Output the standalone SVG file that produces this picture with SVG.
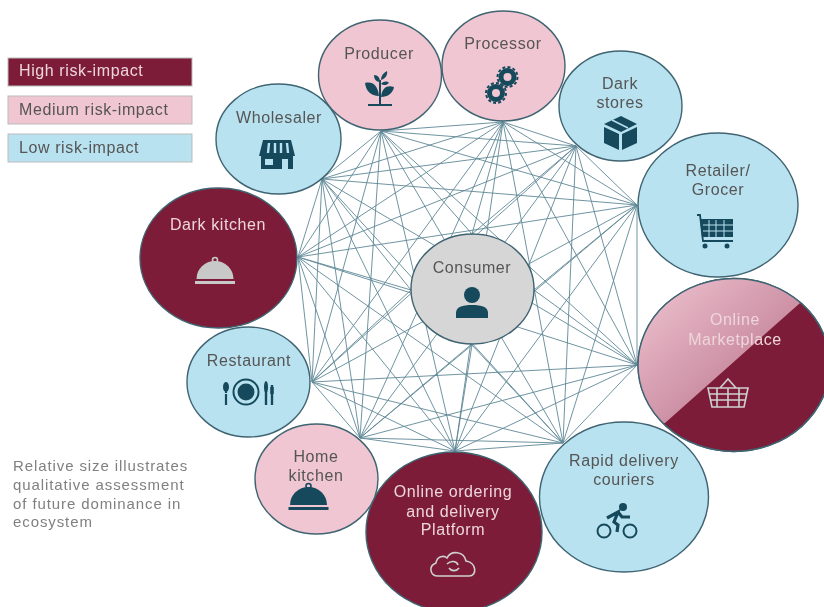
<svg xmlns="http://www.w3.org/2000/svg" width="824" height="607" viewBox="0 0 824 607">
<style>
text{font-family:"Liberation Sans",Arial,sans-serif;font-size:16px;letter-spacing:.6px;text-anchor:middle;fill:#555}
.lt{fill:#eed5dc}
.lg{text-anchor:start}
.nt{text-anchor:start;fill:#808080;font-size:15px;letter-spacing:.9px}
.c{stroke:#3f6472;stroke-width:1.4}
.hi{fill:#7b1f37}.me{fill:#f0c6d2}.lo{fill:#b9e2f0}.co{fill:#d6d6d6}
.leg{stroke:#bbb;stroke-width:1}
#links line{stroke:#5f8896;stroke-width:.9}
.ic{fill:#154a5c}
.il{fill:none;stroke:#154a5c;stroke-width:2}
.ig{fill:none;stroke:#cfcfcf;stroke-width:1.6}
</style>
<defs>
<filter id="soft" x="-2%" y="-2%" width="104%" height="104%"><feGaussianBlur stdDeviation="0.55"/></filter>
<linearGradient id="mk" x1="0" y1="0" x2="1" y2="1"><stop offset="0" stop-color="#f0c6d2"/><stop offset="0.55" stop-color="#c98aa0"/></linearGradient>
<clipPath id="mkc"><polygon points="800,303 665,423 620,423 620,270 800,270"/></clipPath>
<g id="cloche"><circle cx="0" cy="-24" r="2.500" fill="none" stroke-width="1.600" stroke="currentColor"/><path d="M-18.500-5A18.500 18 0 0 1 18.500-5Z" fill="currentColor"/><rect x="-20" y="-3" width="40" height="3" fill="currentColor"/></g>
</defs>
<g filter="url(#soft)">
<g id="legend">
<g id="legend-high"><rect class="hi leg" x="8" y="58" width="184" height="28"/><text class="lg lt" x="19" y="76">High risk-impact</text></g>
<g id="legend-medium"><rect class="me leg" x="8" y="96" width="184" height="28"/><text class="lg" x="19" y="115">Medium risk-impact</text></g>
<g id="legend-low"><rect class="lo leg" x="8" y="134" width="184" height="28"/><text class="lg" x="19" y="153">Low risk-impact</text></g>
</g>
<g id="note"><text class="nt" x="13" y="471">Relative size illustrates</text><text class="nt" x="13" y="490">qualitative assessment</text><text class="nt" x="13" y="509">of future dominance in</text><text class="nt" x="13" y="527">ecosystem</text></g>
<g id="links">
<line x1="381" y1="131" x2="503" y2="122"/><line x1="381" y1="131" x2="576" y2="146"/><line x1="381" y1="131" x2="637" y2="205"/><line x1="381" y1="131" x2="637" y2="365"/><line x1="381" y1="131" x2="563" y2="443"/><line x1="381" y1="131" x2="455" y2="451"/><line x1="381" y1="131" x2="360" y2="438"/><line x1="381" y1="131" x2="312" y2="382"/><line x1="381" y1="131" x2="298" y2="257"/><line x1="381" y1="131" x2="322" y2="179"/>
<line x1="503" y1="122" x2="576" y2="146"/><line x1="503" y1="122" x2="637" y2="205"/><line x1="503" y1="122" x2="637" y2="365"/><line x1="503" y1="122" x2="563" y2="443"/><line x1="503" y1="122" x2="455" y2="451"/><line x1="503" y1="122" x2="360" y2="438"/><line x1="503" y1="122" x2="312" y2="382"/><line x1="503" y1="122" x2="298" y2="257"/><line x1="503" y1="122" x2="322" y2="179"/>
<line x1="576" y1="146" x2="637" y2="205"/><line x1="576" y1="146" x2="637" y2="365"/><line x1="576" y1="146" x2="563" y2="443"/><line x1="576" y1="146" x2="455" y2="451"/><line x1="576" y1="146" x2="360" y2="438"/><line x1="576" y1="146" x2="312" y2="382"/><line x1="576" y1="146" x2="298" y2="257"/><line x1="576" y1="146" x2="322" y2="179"/>
<line x1="637" y1="205" x2="637" y2="365"/><line x1="637" y1="205" x2="563" y2="443"/><line x1="637" y1="205" x2="455" y2="451"/><line x1="637" y1="205" x2="360" y2="438"/><line x1="637" y1="205" x2="312" y2="382"/><line x1="637" y1="205" x2="298" y2="257"/><line x1="637" y1="205" x2="322" y2="179"/>
<line x1="637" y1="365" x2="563" y2="443"/><line x1="637" y1="365" x2="455" y2="451"/><line x1="637" y1="365" x2="360" y2="438"/><line x1="637" y1="365" x2="312" y2="382"/><line x1="637" y1="365" x2="298" y2="257"/><line x1="637" y1="365" x2="322" y2="179"/>
<line x1="563" y1="443" x2="455" y2="451"/><line x1="563" y1="443" x2="360" y2="438"/><line x1="563" y1="443" x2="312" y2="382"/><line x1="563" y1="443" x2="298" y2="257"/><line x1="563" y1="443" x2="322" y2="179"/>
<line x1="455" y1="451" x2="360" y2="438"/><line x1="455" y1="451" x2="312" y2="382"/><line x1="455" y1="451" x2="298" y2="257"/><line x1="455" y1="451" x2="322" y2="179"/>
<line x1="360" y1="438" x2="312" y2="382"/><line x1="360" y1="438" x2="298" y2="257"/><line x1="360" y1="438" x2="322" y2="179"/>
<line x1="312" y1="382" x2="298" y2="257"/><line x1="312" y1="382" x2="322" y2="179"/>
<line x1="298" y1="257" x2="322" y2="179"/>
<line x1="381" y1="131" x2="472" y2="234"/><line x1="503" y1="122" x2="472" y2="234"/><line x1="576" y1="146" x2="472" y2="234"/><line x1="637" y1="205" x2="534" y2="290"/><line x1="637" y1="365" x2="534" y2="290"/><line x1="563" y1="443" x2="472" y2="345"/><line x1="455" y1="451" x2="472" y2="345"/><line x1="360" y1="438" x2="472" y2="345"/><line x1="312" y1="382" x2="411" y2="290"/><line x1="298" y1="257" x2="411" y2="290"/><line x1="322" y1="179" x2="411" y2="290"/>
</g>
<g id="producer"><ellipse class="me c" cx="380" cy="75" rx="61.500" ry="55"/><text x="379" y="59">Producer</text>
<path class="ic" d="M365 83C372 81 378 85 379 96 371 96 366 91 365 83ZM394 87C388 85 382 87 381 97 388 97 393 93 394 87ZM374 75C378 75 380 78 380 82 376 82 374 79 374 75ZM387 71C388 75 385 79 381 80 381 76 383 73 387 71ZM381 84C384 81 387 81 389 83 387 85 384 86 381 84Z"/><path class="il" d="M380 80V105M368 105H392"/></g>
<g id="processor"><ellipse class="me c" cx="503.500" cy="66" rx="61.500" ry="55"/><text x="503" y="49">Processor</text>
<circle class="il" cx="507.500" cy="77" r="6.500" style="stroke-width:5"/><circle class="il" cx="496" cy="93" r="6.500" style="stroke-width:5"/><circle class="il" cx="507.500" cy="77" r="10" style="stroke-width:2;stroke-dasharray:3 2.200"/><circle class="il" cx="496" cy="93" r="10" style="stroke-width:2;stroke-dasharray:3 2.200"/></g>
<g id="dark-stores"><ellipse class="lo c" cx="620.500" cy="106" rx="61.500" ry="55"/><text x="620" y="89">Dark</text><text x="620" y="108">stores</text>
<path class="ic" d="M621 116 637 124 621 132 604 124ZM604 127 619 134V150L604 143ZM622 134 637 127V143L622 150Z"/><path d="M612 120 628 128" stroke="#b9e2f0" stroke-width="1.500" fill="none"/></g>
<g id="retailer"><ellipse class="lo c" cx="718" cy="205" rx="80" ry="72"/><text x="718" y="176">Retailer/</text><text x="718" y="195">Grocer</text>
<path class="ic" d="M700 219H733V237H702Z"/><path d="M703 225H733M703 231H733M709 220V237M716 220V237M724 220V237" stroke="#b9e2f0" stroke-width="1" fill="none"/><path class="il" d="M697 215H700L703 241H733" style="stroke-width:1.800"/><circle class="ic" cx="705" cy="246" r="2.500"/><circle class="ic" cx="727" cy="246" r="2.500"/></g>
<g id="online-marketplace"><ellipse class="hi c" cx="734" cy="365" rx="96" ry="86.500"/><ellipse fill="url(#mk)" clip-path="url(#mkc)" cx="734" cy="365" rx="96" ry="86.500"/><ellipse fill="none" class="c" cx="734" cy="365" rx="96" ry="86.500"/><text class="lt" x="735" y="325">Online</text><text class="lt" x="735" y="345">Marketplace</text>
<path class="ig" d="M708 388H748L744 407H712ZM720 388 728 379 736 388M710 394H746M711 400H745M717 388V407M728 388V407M739 388V407"/></g>
<g id="rapid-delivery"><ellipse class="lo c" cx="624" cy="497" rx="84.500" ry="75"/><text x="624" y="466">Rapid delivery</text><text x="624" y="485">couriers</text>
<circle class="ic" cx="623" cy="507" r="4"/><circle class="il" cx="604" cy="531" r="6.500"/><circle class="il" cx="630" cy="531" r="6.500"/><path class="il" d="M607 518 618 512 614 522 618 525 617 532M618 512 622 517H630" style="stroke-width:3.200"/></g>
<g id="online-ordering"><ellipse class="hi c" cx="454" cy="532" rx="88" ry="80"/><text class="lt" x="453" y="497">Online ordering</text><text class="lt" x="453" y="517">and delivery</text><text class="lt" x="453" y="535">Platform</text>
<path class="ig" d="M438 576C430 576 428 566 436 563 437 556 444 555 447 558 451 550 464 551 466 561 476 562 478 576 469 576ZM447 564C451 560 457 561 458 565M459 568C456 572 451 571 449 568"/></g>
<g id="home-kitchen"><ellipse class="me c" cx="316.500" cy="479" rx="61.500" ry="55"/><text x="316" y="462">Home</text><text x="316" y="481">kitchen</text>
<use href="#cloche" x="308.500" y="510" color="#154a5c"/></g>
<g id="restaurant"><ellipse class="lo c" cx="248.500" cy="382" rx="61.500" ry="55"/><text x="249" y="366">Restaurant</text>
<circle class="il" cx="246" cy="392" r="12.500"/><circle class="ic" cx="246" cy="392" r="8.500"/><path class="il" d="M226 405V394M226 383V393" style="stroke-width:2.200"/><ellipse class="ic" cx="226" cy="387" rx="3" ry="5"/><path class="il" d="M266 405V385M272 405V385" style="stroke-width:2.400"/><ellipse class="ic" cx="266" cy="387" rx="2" ry="6"/><path class="il" d="M272 387V394" style="stroke-width:3.500"/></g>
<g id="dark-kitchen"><ellipse class="hi c" cx="218.500" cy="258" rx="78.500" ry="70"/><text class="lt" x="218" y="230">Dark kitchen</text>
<use href="#cloche" x="215" y="284" color="#c8c8c8"/></g>
<g id="wholesaler"><ellipse class="lo c" cx="278.500" cy="139" rx="62.500" ry="55"/><text x="279" y="123">Wholesaler</text>
<path class="ic" d="M263 140H291L295 156H259ZM261 156H293V169H261Z"/><path d="M269 143 268 153M275 143V153M281 143V153M287 143 288 153" stroke="#b9e2f0" stroke-width="2.400" fill="none"/><path d="M265 159H273V165H265ZM282 159H288V169H282Z" fill="#b9e2f0"/></g>
<g id="consumer"><ellipse class="co c" cx="472.500" cy="289" rx="61.500" ry="55"/><text x="472" y="273">Consumer</text>
<circle class="ic" cx="472" cy="295" r="8"/><path class="ic" d="M456 318V313C456 307 462 305 472 305 482 305 488 307 488 313V318Z"/></g>
</g>
</svg>
